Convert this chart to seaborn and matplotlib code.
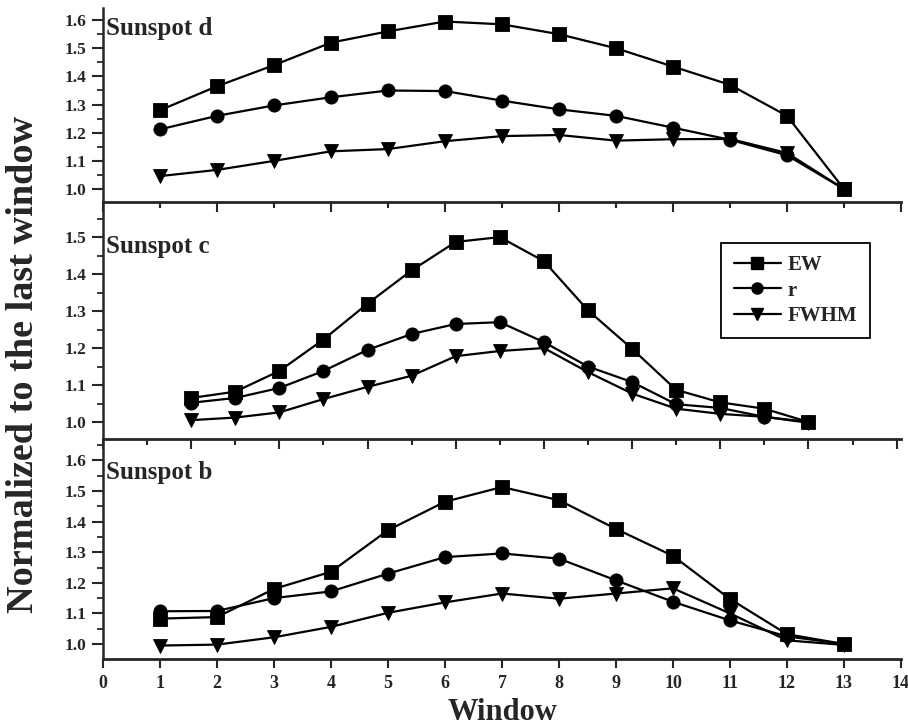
import numpy as np
import pandas as pd
import matplotlib
matplotlib.use("Agg")
import matplotlib.pyplot as plt
from matplotlib.ticker import MultipleLocator, FormatStrFormatter
from matplotlib.lines import Line2D
import seaborn as sns

# ---------------- data ----------------
series_names = ["EW", "r", "FWHM"]

# Sunspot d (windows 1..13)
x_d = [1, 2, 3, 4, 5, 6, 7, 8, 9, 10, 11, 12, 13]
ew_d = [1.28, 1.365, 1.44, 1.52, 1.56, 1.595, 1.585, 1.55, 1.50, 1.435, 1.37, 1.26, 1.0]
r_d = [1.212, 1.26, 1.297, 1.326, 1.35, 1.348, 1.314, 1.283, 1.26, 1.218, 1.175, 1.12, 1.0]
fwhm_d = [1.046, 1.068, 1.10, 1.134, 1.142, 1.17, 1.188, 1.192, 1.172, 1.177, 1.178, 1.128, 1.0]

# Sunspot c (drawn on its own window scale)
x_c = [2, 3, 4, 5, 6, 7, 8, 9, 10, 11, 12, 13, 14, 15, 16]
ew_c = [1.065, 1.082, 1.138, 1.223, 1.32, 1.41, 1.487, 1.50, 1.435, 1.302, 1.198, 1.087, 1.053, 1.036, 1.0]
r_c = [1.052, 1.065, 1.092, 1.138, 1.195, 1.238, 1.265, 1.27, 1.216, 1.15, 1.108, 1.048, 1.038, 1.014, 1.0]
fwhm_c = [1.005, 1.012, 1.026, 1.062, 1.095, 1.125, 1.178, 1.192, 1.2, 1.135, 1.077, 1.036, 1.022, 1.014, 0.998]

# Sunspot b (windows 1..13)
x_b = [1, 2, 3, 4, 5, 6, 7, 8, 9, 10, 11, 12, 13]
ew_b = [1.083, 1.088, 1.18, 1.236, 1.372, 1.465, 1.513, 1.47, 1.376, 1.288, 1.147, 1.032, 1.0]
r_b = [1.107, 1.108, 1.15, 1.172, 1.23, 1.284, 1.296, 1.279, 1.208, 1.138, 1.077, 1.025, 1.0]
fwhm_b = [0.995, 0.998, 1.022, 1.056, 1.102, 1.136, 1.165, 1.148, 1.165, 1.182, 1.10, 1.012, 0.997]

panel_labels = ["Sunspot d", "Sunspot c", "Sunspot b"]
x_ticklabels = [str(i) for i in range(0, 15)]

# ---------------- style ----------------
sns.set_style("ticks")
plt.rcParams["font.family"] = ["Liberation Serif", "DejaVu Serif"]
plt.rcParams["font.weight"] = "bold"
plt.rcParams["axes.labelweight"] = "bold"

markers = {"EW": "s", "r": "o", "FWHM": "v"}

fig = plt.figure(figsize=(9.08, 7.25), dpi=100)
L, R = 103 / 908, 901 / 908
def fy(p):
    return 1 - p / 725

ax_d = fig.add_axes([L, fy(202), R - L, fy(8) - fy(202)])
ax_c = fig.add_axes([L, fy(439), R - L, fy(202) - fy(439)])
ax_b = fig.add_axes([L, fy(659), R - L, fy(439) - fy(659)])

panels = [
    (ax_d, x_d, [ew_d, r_d, fwhm_d], (0, 14), (0.954, 1.643), [1.0, 1.1, 1.2, 1.3, 1.4, 1.5, 1.6], 0.955),
    (ax_c, x_c, [ew_c, r_c, fwhm_c], (0, 18.1), (0.954, 1.595), [1.0, 1.1, 1.2, 1.3, 1.4, 1.5], 0.86),
    (ax_b, x_b, [ew_b, r_b, fwhm_b], (0, 14), (0.951, 1.670), [1.0, 1.1, 1.2, 1.3, 1.4, 1.5, 1.6], 0.90),
]

for i, (ax, xs, ys, xl, yl, yt, ty) in enumerate(panels):
    rows = []
    for name, vals in zip(series_names, ys):
        for xv, yv in zip(xs, vals):
            rows.append({"x": xv, "y": yv, "series": name})
    df = pd.DataFrame(rows)
    for name in series_names:
        sub = df[df["series"] == name]
        sns.lineplot(data=sub, x="x", y="y", ax=ax, color="black",
                     marker=markers[name], markersize=9.5, markeredgecolor="black",
                     markeredgewidth=0.6, linewidth=1.6, legend=False, sort=False)
    ax.set_xlim(*xl)
    ax.set_ylim(*yl)
    ax.set_xlabel("")
    ax.set_ylabel("")
    for s in ["top", "right"]:
        ax.spines[s].set_visible(False)
    ax.spines["left"].set_linewidth(1.8)
    ax.spines["bottom"].set_linewidth(2.0)
    ax.set_yticks(yt)
    ax.yaxis.set_major_formatter(FormatStrFormatter("%.1f"))
    ax.yaxis.set_minor_locator(MultipleLocator(0.05))
    ax.tick_params(axis="y", which="major", direction="out", length=8, width=1.5,
                   labelsize=12.5, pad=4)
    ax.tick_params(axis="y", which="minor", direction="out", length=4.5, width=1.3)
    ax.patch.set_alpha(0)
    ax.text(0.004, ty, panel_labels[i], transform=ax.transAxes,
            fontsize=18, fontweight="bold", ha="left", va="top")

# x ticks on upper panels: long every 2, short every 1, no labels
for ax in (ax_d, ax_c):
    ax.xaxis.set_major_locator(MultipleLocator(2))
    ax.xaxis.set_minor_locator(MultipleLocator(1))
    ax.tick_params(axis="x", which="major", direction="out", length=7, width=1.5, labelbottom=False)
    ax.tick_params(axis="x", which="minor", direction="out", length=4.5, width=1.5)

ax_b.set_xticks(range(0, 15))
ax_b.set_xticklabels(x_ticklabels)
ax_b.tick_params(axis="x", which="major", direction="out", length=6.5, width=1.5,
                 labelsize=13, pad=5)
for lab in ax_b.get_xticklabels() + [t for a in (ax_d, ax_c, ax_b) for t in a.get_yticklabels()]:
    lab.set_fontweight("bold")

ax_b.set_xlabel("Window", fontsize=22, fontweight="bold", labelpad=4)
fig.text(24 / 908, fy(364), "Normalized to the last window", rotation=90,
         fontsize=27.5, fontweight="bold", ha="center", va="center")

# legend in panel c
handles = [Line2D([0], [0], color="black", marker=markers[n], markersize=8,
                  markeredgecolor="black", linewidth=1.6) for n in series_names]
leg = ax_c.legend(handles, series_names, loc="upper left",
                  bbox_to_anchor=((721 - 103) / 798, 1 - (243 - 202) / 237),
                  frameon=True, fancybox=False, edgecolor="black", framealpha=1,
                  prop={"family": "Liberation Serif", "weight": "bold", "size": 15},
                  handlelength=2.3, handletextpad=0.3, labelspacing=0.25,
                  borderpad=0.6, borderaxespad=0)
leg.get_frame().set_linewidth(1.3)

fig.savefig("out.png", dpi=100)
